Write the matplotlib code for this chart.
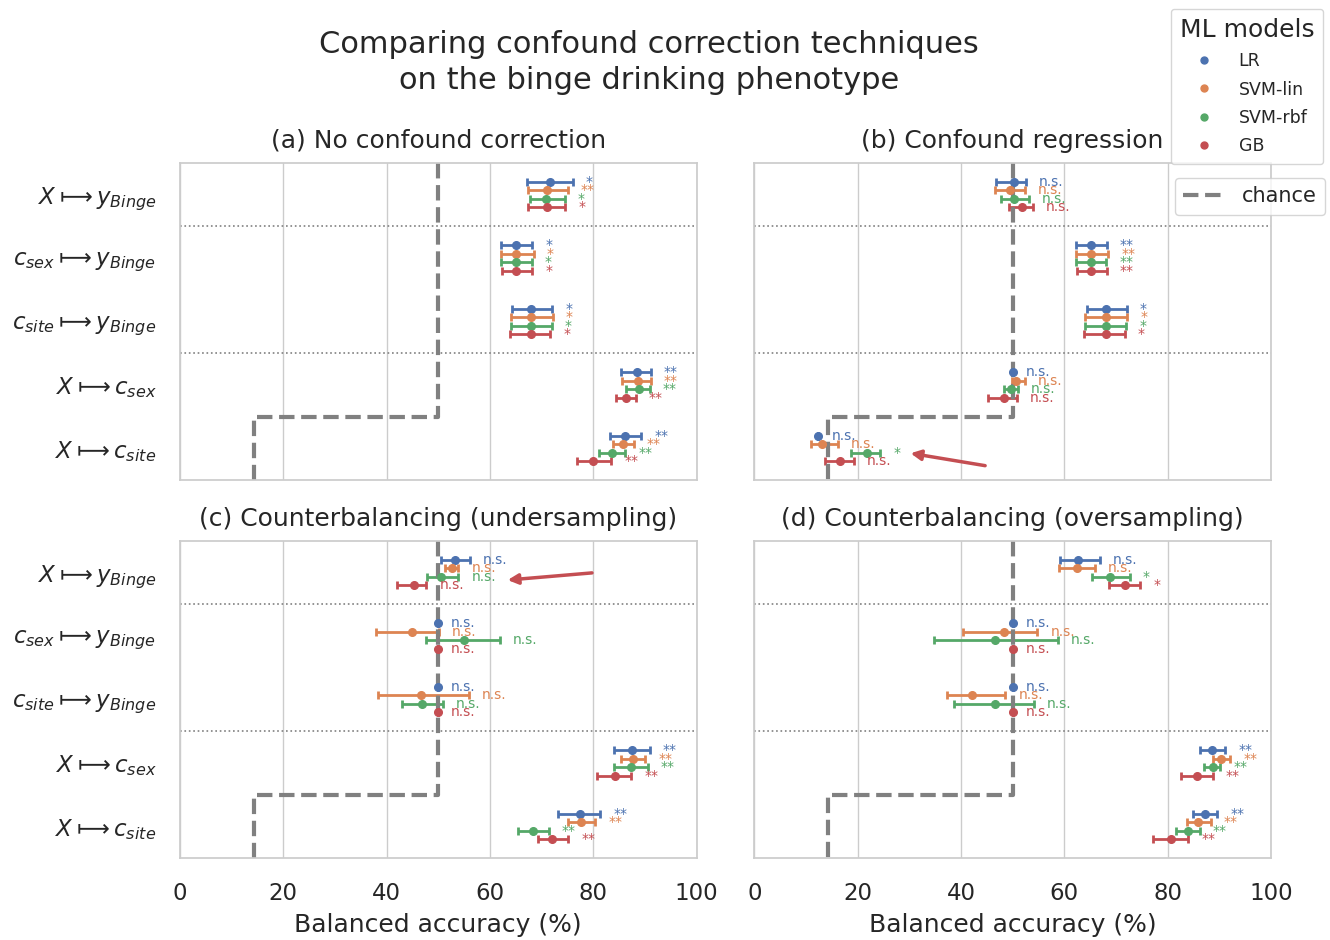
import matplotlib
matplotlib.use('Agg')
import matplotlib.pyplot as plt
from matplotlib.lines import Line2D
import seaborn as sns
import numpy as np

MODELS = ['LR', 'SVM-lin', 'SVM-rbf', 'GB']
COLORS = ['#4c72b0', '#dd8452', '#55a868', '#c44e52']
ROWS = [r'$X \longmapsto y_{Binge}$', r'$c_{sex} \longmapsto y_{Binge}$',
        r'$c_{site} \longmapsto y_{Binge}$', r'$X \longmapsto c_{sex}$',
        r'$X \longmapsto c_{site}$']
TITLES = ['(a) No confound correction', '(b) Confound regression',
          '(c) Counterbalancing (undersampling)', '(d) Counterbalancing (oversampling)']
CHANCE_X = [50, 50, 14.3, 14.3]
CHANCE_Y = [-0.5, 3.5, 3.5, 4.5]

# rows x models (LR, SVM-lin, SVM-rbf, GB)
a_mean = [[71.6, 71.0, 70.9, 71.1], [65.1, 65.1, 65.1, 65.1], [68.0, 68.0, 68.0, 68.0],
          [88.5, 88.6, 88.8, 86.3], [86.1, 85.8, 83.6, 80.0]]
a_lo = [[67.1, 67.3, 67.8, 67.3], [62.2, 62.2, 62.2, 62.4], [64.3, 64.1, 64.1, 63.9],
        [85.4, 85.6, 86.4, 84.5], [83.2, 83.8, 81.2, 76.9]]
a_hi = [[76.1, 75.1, 74.5, 74.6], [68.2, 68.5, 68.1, 68.2], [72.1, 72.2, 72.0, 71.7],
        [91.2, 91.1, 91.0, 88.2], [89.3, 87.9, 86.2, 83.5]]
a_sig = [['*', '**', '*', '*'], ['*'] * 4, ['*'] * 4, ['**'] * 4, ['**'] * 4]

b_mean = [[50.2, 49.5, 50.3, 51.8], [65.1, 65.1, 65.1, 65.1], [68.0, 68.0, 68.0, 68.0],
          [50.1, 50.7, 49.7, 48.3], [12.4, 13.1, 21.8, 16.5]]
b_lo = [[46.8, 46.5, 47.7, 49.3], [62.2, 62.2, 62.2, 62.4], [64.3, 64.1, 64.1, 63.9],
        [50.1, 49.9, 48.4, 45.3], [12.4, 11.0, 18.7, 13.6]]
b_hi = [[52.5, 52.4, 53.2, 53.9], [68.2, 68.5, 68.1, 68.2], [72.1, 72.2, 72.0, 71.7],
        [50.1, 52.3, 51.0, 50.8], [12.4, 16.1, 24.4, 19.2]]
b_sig = [['n.s.'] * 4, ['**'] * 4, ['*'] * 4, ['n.s.'] * 4, ['n.s.', 'n.s.', '*', 'n.s.']]

c_mean = [[53.3, 52.7, 50.5, 45.3], [50.0, 44.9, 55.0, 50.0], [50.0, 46.6, 46.9, 50.0],
          [87.5, 87.8, 87.4, 84.2], [77.4, 77.6, 68.4, 72.0]]
c_lo = [[50.6, 51.3, 47.9, 42.1], [50.0, 37.9, 47.7, 50.0], [50.0, 38.3, 42.9, 50.0],
        [84.0, 85.4, 84.1, 80.7], [73.2, 75.2, 65.5, 69.4]]
c_hi = [[56.2, 53.9, 53.9, 47.7], [50.0, 50.1, 62.0, 50.0], [50.0, 55.9, 50.9, 50.0],
        [90.9, 90.1, 90.6, 87.4], [81.4, 80.4, 71.4, 75.2]]
c_sig = [['n.s.'] * 4, ['n.s.'] * 4, ['n.s.'] * 4, ['**'] * 4, ['**'] * 4]

d_mean = [[62.7, 62.5, 68.9, 71.8], [50.0, 48.4, 46.6, 50.0], [50.0, 42.1, 46.6, 50.0],
          [88.6, 90.3, 88.7, 85.7], [87.2, 85.9, 83.9, 80.7]]
d_lo = [[59.1, 59.0, 65.4, 68.7], [50.0, 40.4, 34.7, 50.0], [50.0, 37.3, 38.6, 50.0],
        [86.2, 88.8, 87.0, 82.6], [84.9, 83.8, 81.6, 77.2]]
d_hi = [[66.9, 66.0, 72.7, 74.7], [50.0, 54.8, 58.8, 50.0], [50.0, 48.6, 54.1, 50.0],
        [91.2, 92.1, 90.2, 88.7], [89.6, 88.4, 86.2, 84.0]]
d_sig = [['n.s.', 'n.s.', '*', '*'], ['n.s.'] * 4, ['n.s.'] * 4, ['**'] * 4, ['**'] * 4]

# red arrows (tail, head) in data coords
ARROWS = {1: ((45.2, 4.28), (29.7, 4.07)), 2: ((80.3, 0.0), (62.9, 0.12))}


def draw_panel(ax, mean, lo, hi, sig, title):
    mean, lo, hi = np.array(mean), np.array(lo), np.array(hi)
    offsets = np.linspace(-0.2, 0.2, 4)
    ypos = np.arange(len(ROWS))
    for m in range(len(MODELS)):
        y = ypos + offsets[m]
        xerr = [mean[:, m] - lo[:, m], hi[:, m] - mean[:, m]]
        ax.errorbar(mean[:, m], y, xerr=xerr, fmt='o', color=COLORS[m],
                    markersize=5.5, elinewidth=2, capsize=3, capthick=2)
        for r in range(len(ROWS)):
            ax.text(hi[r, m] + 2.5, y[r], sig[r][m], color=COLORS[m],
                    fontsize=10, va='center', ha='left')
    ax.plot(CHANCE_X, CHANCE_Y, '--', color='gray', lw=3)
    for sep in [0.5, 2.5]:
        ax.axhline(sep, color='gray', ls=':', lw=1.2)
    ax.set_title(title, pad=11)
    ax.set_xlim(0, 100)
    ax.set_ylim(4.5, -0.5)
    ax.set_yticks(ypos)
    ax.grid(axis='y', visible=False)
    ax.tick_params(axis='y', pad=11)
    ax.tick_params(axis='x', pad=11)


def main():
    sns.set_theme(context='notebook', style='whitegrid', font_scale=1.5)
    fig, axes = plt.subplots(2, 2, figsize=(13.3, 9.4), dpi=100, sharex=True, sharey=True)
    fig.subplots_adjust(left=0.1353, right=0.9556, top=0.8266, bottom=0.0872,
                        wspace=0.112, hspace=0.192)
    data = [(a_mean, a_lo, a_hi, a_sig), (b_mean, b_lo, b_hi, b_sig),
            (c_mean, c_lo, c_hi, c_sig), (d_mean, d_lo, d_hi, d_sig)]
    for i, ax in enumerate(axes.flat):
        draw_panel(ax, *data[i], TITLES[i])
        if i in ARROWS:
            tail, head = ARROWS[i]
            ax.annotate('', xy=head, xytext=tail,
                        arrowprops=dict(arrowstyle='-|>', color=COLORS[3], lw=2.5,
                                        mutation_scale=15))
    axes[0, 0].set_yticklabels(ROWS)
    axes[1, 0].set_yticklabels(ROWS)
    axes[1, 0].set_xticks([0, 20, 40, 60, 80, 100])
    for ax in axes[1]:
        ax.set_xlabel('Balanced accuracy (%)', labelpad=6)

    fig.suptitle('Comparing confound correction techniques\non the binge drinking phenotype',
                 x=0.488, y=0.968, va='top', fontsize=22, linespacing=1.3)

    handles = [Line2D([], [], marker='o', ls='none', color=c, markersize=5) for c in COLORS]
    fig.legend(handles, MODELS, title='ML models', loc='upper right',
               bbox_to_anchor=(1323 / 1330, 1 - 9 / 940), fontsize=12.5,
               title_fontsize=18, borderaxespad=0, labelspacing=0.6,
               handletextpad=1.0, borderpad=0.5)
    chance = [Line2D([], [], ls='--', color='gray', lw=3)]
    fig.legend(chance, ['chance'], loc='upper right', fontsize=15,
               bbox_to_anchor=(1325 / 1330, 1 - 178 / 940), borderaxespad=0)

    fig.savefig('out.png', dpi=100)


if __name__ == "__main__":
    main()
